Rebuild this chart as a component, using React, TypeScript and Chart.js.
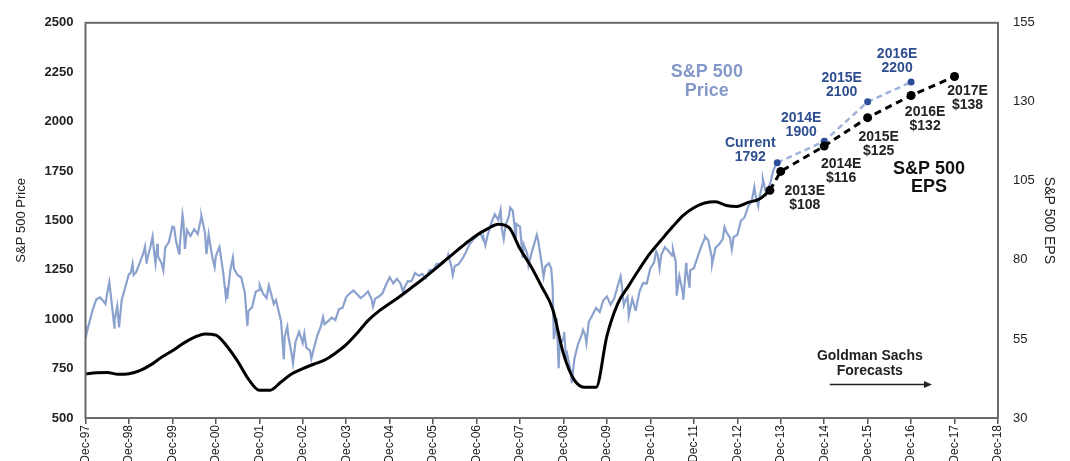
import React, { useEffect, useRef } from "react";
import { Chart, registerables } from "chart.js";

Chart.register(...registerables);

// ---------- DATA ----------
const xTickLabels = [
  "Dec-97", "Dec-98", "Dec-99", "Dec-00", "Dec-01", "Dec-02", "Dec-03", "Dec-04",
  "Dec-05", "Dec-06", "Dec-07", "Dec-08", "Dec-09", "Dec-10", "Dec-11", "Dec-12",
  "Dec-13", "Dec-14", "Dec-15", "Dec-16", "Dec-17", "Dec-18",
];
const priceTicks = [500, 750, 1000, 1250, 1500, 1750, 2000, 2250, 2500];
const epsTicks = [30, 55, 80, 105, 130, 155];

// S&P 500 price, month-end values from Dec-97 (index 0) to Nov-13
const priceMonthlyCloses = [
  970,
  980, 1049, 1101, 1111, 1090, 1133, 1120, 957, 1017, 1098, 1163, 1229,
  1280, 1238, 1286, 1335, 1301, 1372, 1328, 1320, 1283, 1362, 1389, 1469,
  1394, 1366, 1499, 1452, 1421, 1455, 1431, 1518, 1437, 1429, 1315, 1320,
  1366, 1240, 1160, 1249, 1256, 1224, 1211, 1134, 1041, 1060, 1139, 1148,
  1130, 1107, 1147, 1077, 1067, 990, 912, 916, 815, 886, 936, 880,
  856, 841, 848, 917, 964, 975, 990, 1008, 996, 1051, 1058, 1112,
  1131, 1145, 1126, 1107, 1121, 1141, 1102, 1104, 1115, 1130, 1174, 1212,
  1181, 1204, 1181, 1157, 1192, 1191, 1234, 1220, 1229, 1207, 1249, 1248,
  1280, 1281, 1295, 1311, 1270, 1270, 1277, 1304, 1336, 1378, 1401, 1418,
  1438, 1407, 1421, 1482, 1531, 1503, 1455, 1474, 1527, 1549, 1481, 1468,
  1378, 1331, 1323, 1386, 1400, 1280, 1267, 1283, 1165, 969, 896, 903,
  826, 735, 798, 873, 919, 919, 987, 1021, 1057, 1036, 1096, 1115,
  1074, 1104, 1169, 1187, 1089, 1031, 1102, 1049, 1141, 1183, 1181, 1258,
  1286, 1327, 1326, 1364, 1345, 1321, 1292, 1219, 1131, 1253, 1247, 1258,
  1312, 1366, 1408, 1398, 1310, 1362, 1379, 1407, 1441, 1412, 1416, 1426,
  1498, 1515, 1569, 1598, 1631, 1606, 1686, 1633, 1682, 1757, 1792,
];

// intra-month swings (month index from Dec-97, value)
const priceSwingMonths = [
  0.3, 5.5, 6.57, 8.03, 8.77, 9.27, 12.47, 13.3, 16.43, 16.9,
  18.53, 19.33, 19.83, 21.5, 24.47, 25.83, 26.8, 27.47, 32.03, 33.4,
  35.67, 38.73, 39.13, 40.7, 44.7, 48.13, 50.63, 52.6, 54.77, 55.73,
  57.3, 60.43, 62.37, 65.6, 79.4, 87.67, 100.17, 101.43, 109.9, 110.43,
  114.63, 115.5, 117.3, 118.87, 120.73, 122.33, 124.63, 126.5, 128.63, 129.33,
  130.13, 130.67, 131.03, 132.2, 132.67, 134.3, 137.4, 138.33, 147.77, 148.67,
  149.7, 150.07, 151.87, 157.6, 158.53, 162.23, 163.27, 165.1, 165.9, 166.83,
  171.07, 173.03, 176.47, 178.5, 184.7, 185.8, 187.07,
];
const priceSwingValues = [
  927, 1077, 1187, 994, 1066, 959, 1234, 1224, 1367, 1281,
  1418, 1281, 1381, 1247, 1465, 1333, 1527, 1356, 1520, 1329,
  1264, 1118, 1103, 1312, 966, 1172, 1170, 1097, 797, 962,
  777, 927, 800, 1011, 1064, 1138, 1325, 1223, 1399, 1374,
  1553, 1406, 1565, 1407, 1310, 1273, 1426, 1214, 1255, 899,
  1005, 752, 870, 935, 805, 677, 946, 879, 1217, 1071,
  1113, 1022, 1047, 1343, 1257, 1353, 1119, 1099, 1285, 1159,
  1419, 1278, 1466, 1353, 1669, 1573, 1709,
];

// S&P 500 EPS, quarterly from Dec-97 to Sep-13
const epsQuarterly = [
  44.0, 44.3, 44.4, 43.8, 44.0, 45.0, 46.8, 49.2, 51.3, 53.6, 55.5, 56.6,
  56.2, 52.8, 48.0, 42.3, 38.8, 38.8, 41.4, 44.0, 45.6, 47.0, 48.3, 50.5,
  53.2, 56.8, 60.8, 63.8, 66.2, 68.6, 71.2, 73.8, 76.6, 79.5, 82.4, 85.2,
  87.8, 89.8, 91.3, 90.2, 83.5, 78.0, 71.5, 64.5, 50.3, 42.0, 39.7, 39.7,
  56.0, 66.2, 71.8, 77.2, 82.2, 86.3, 90.3, 94.0, 96.5, 98.0, 98.4, 97.2,
  96.9, 98.2, 99.2, 102.0,
];

// Forecasts
const priceForecastYears = [15.92, 17, 18, 19];
const priceForecastValues = [1792, 1900, 2100, 2200];
const priceForecastTags = ["Current", "2014E", "2015E", "2016E"];

const epsForecastYears = [15.75, 16, 17, 18, 19, 20];
const epsForecastValues = [102, 108, 116, 125, 132, 138];
const epsForecastTags = ["", "2013E", "2014E", "2015E", "2016E", "2017E"];

// ---------- STYLE ----------
const FONT = "'Liberation Sans', Arial, Helvetica, sans-serif";
const PRICE_LINE = "#8CA2CE";
const PRICE_DASH = "#A0B3DA";
const PRICE_DOT = "#2D4C9A";
const PRICE_TEXT = "#2F4E90";
const PRICE_LABEL = "#8499C9";
const TEXT_DARK = "#222222";

const priceLabelOffsets = [
  [-27, -20], [-23, -23], [-26, -24], [-14, -28],
];
const epsLabelOffsets = [
  [0, 0], [24, 20], [17, 18], [11, 19], [14, 17], [13, 15],
];

const annotationPlugin = {
  id: "gsAnnotations",
  afterDatasetsDraw(chart: any) {
    const { ctx, chartArea, scales } = chart;
    const x = scales.x;
    const y = scales.y;
    const y1 = scales.y1;
    ctx.save();

    // frame
    ctx.strokeStyle = "#6a6a6a";
    ctx.lineWidth = 2;
    ctx.strokeRect(chartArea.left, chartArea.top, chartArea.width, chartArea.height);

    ctx.textAlign = "center";
    ctx.textBaseline = "middle";

    // price forecast labels
    ctx.font = `bold 14px ${FONT}`;
    ctx.fillStyle = PRICE_TEXT;
    priceForecastYears.forEach((yr, i) => {
      const px = x.getPixelForValue(yr) + priceLabelOffsets[i][0];
      const py = y.getPixelForValue(priceForecastValues[i]) + priceLabelOffsets[i][1];
      ctx.fillText(priceForecastTags[i], px, py);
      ctx.fillText(String(priceForecastValues[i]), px, py + 14);
    });

    // eps forecast labels
    ctx.fillStyle = TEXT_DARK;
    epsForecastYears.forEach((yr, i) => {
      if (!epsForecastTags[i]) return;
      const px = x.getPixelForValue(yr) + epsLabelOffsets[i][0];
      const py = y1.getPixelForValue(epsForecastValues[i]) + epsLabelOffsets[i][1];
      ctx.fillText(epsForecastTags[i], px, py);
      ctx.fillText("$" + epsForecastValues[i], px, py + 14);
    });

    // series labels
    ctx.font = `bold 18px ${FONT}`;
    ctx.fillStyle = PRICE_LABEL;
    const plx = x.getPixelForValue(14.3);
    const ply = y.getPixelForValue(2250);
    ctx.fillText("S&P 500", plx, ply);
    ctx.fillText("Price", plx, ply + 19);

    ctx.fillStyle = "#111111";
    const elx = x.getPixelForValue(19.41);
    const ely = y1.getPixelForValue(108.75);
    ctx.fillText("S&P 500", elx, ely);
    ctx.fillText("EPS", elx, ely + 18);

    // Goldman Sachs Forecasts
    ctx.font = `bold 14px ${FONT}`;
    ctx.fillStyle = TEXT_DARK;
    const gx = x.getPixelForValue(18.05);
    const gy = y.getPixelForValue(815);
    ctx.fillText("Goldman Sachs", gx, gy);
    ctx.fillText("Forecasts", gx, gy + 15);

    const ax0 = x.getPixelForValue(17.13);
    const ax1 = x.getPixelForValue(19.48);
    const ay = y.getPixelForValue(670);
    ctx.strokeStyle = TEXT_DARK;
    ctx.lineWidth = 1.5;
    ctx.beginPath();
    ctx.moveTo(ax0, ay);
    ctx.lineTo(ax1 - 6, ay);
    ctx.stroke();
    ctx.fillStyle = TEXT_DARK;
    ctx.beginPath();
    ctx.moveTo(ax1, ay);
    ctx.lineTo(ax1 - 8, ay - 3.5);
    ctx.lineTo(ax1 - 8, ay + 3.5);
    ctx.closePath();
    ctx.fill();

    ctx.restore();
  },
};

function buildPriceSeries() {
  const pts = priceMonthlyCloses.map((v, i) => ({ x: i / 12, y: v }));
  priceSwingMonths.forEach((m, i) => pts.push({ x: m / 12, y: priceSwingValues[i] }));
  pts.sort((a, b) => a.x - b.x);
  return pts;
}

export default function App() {
  const canvasRef = useRef<HTMLCanvasElement | null>(null);

  useEffect(() => {
    if (!canvasRef.current) return;
    const pricePts = buildPriceSeries();
    const epsPts = epsQuarterly.map((v, i) => ({ x: i / 4, y: v }));
    const priceFc = priceForecastYears.map((t, i) => ({ x: t, y: priceForecastValues[i] }));
    const epsFc = epsForecastYears.map((t, i) => ({ x: t, y: epsForecastValues[i] }));

    const chart = new Chart(canvasRef.current, {
      type: "line",
      data: {
        datasets: [
          {
            label: "EPS forecast",
            data: epsFc,
            yAxisID: "y1",
            borderColor: "#000",
            borderWidth: 3,
            borderDash: [7, 5],
            pointRadius: 4.5,
            pointBackgroundColor: "#000",
            pointBorderWidth: 0,
            tension: 0,
          },
          {
            label: "S&P 500 EPS",
            data: epsPts,
            yAxisID: "y1",
            borderColor: "#000",
            borderWidth: 3,
            pointRadius: 0,
            cubicInterpolationMode: "monotone",
          },
          {
            label: "Price forecast",
            data: priceFc,
            yAxisID: "y",
            borderColor: PRICE_DASH,
            borderWidth: 2.5,
            borderDash: [6, 4],
            pointRadius: 3.5,
            pointBackgroundColor: PRICE_DOT,
            pointBorderWidth: 0,
            tension: 0,
          },
          {
            label: "S&P 500 Price",
            data: pricePts,
            yAxisID: "y",
            borderColor: PRICE_LINE,
            borderWidth: 2.2,
            pointRadius: 0,
            tension: 0,
          },
        ],
      },
      options: {
        animation: false,
        responsive: false,
        maintainAspectRatio: false,
        parsing: false,
        normalized: true,
        layout: { padding: { top: 18, left: 0, right: 0, bottom: 0 } },
        plugins: {
          legend: { display: false },
          tooltip: { enabled: false },
        },
        scales: {
          x: {
            type: "linear",
            position: "bottom",
            min: 0,
            max: 21,
            afterFit: (s: any) => { s.height = 43; },
            border: { display: false },
            grid: {
              display: true,
              drawOnChartArea: false,
              drawTicks: true,
              tickLength: 6,
              color: "#555",
              lineWidth: 1.5,
            },
            ticks: {
              stepSize: 1,
              maxTicksLimit: 40,
              autoSkip: false,
              minRotation: 90,
              maxRotation: 90,
              padding: 1,
              color: TEXT_DARK,
              font: { family: FONT, size: 12 },
              callback: (v: any) => xTickLabels[Math.round(Number(v))] ?? "",
            },
          },
          y: {
            type: "linear",
            position: "left",
            min: priceTicks[0],
            max: priceTicks[priceTicks.length - 1],
            afterFit: (s: any) => { s.width = 85.5; },
            afterBuildTicks: (s: any) => { s.ticks = priceTicks.map((v) => ({ value: v })); },
            border: { display: false },
            grid: { display: false, drawTicks: false },
            ticks: {
              padding: 12,
              color: TEXT_DARK,
              font: { family: FONT, size: 13, weight: "bold" },
              callback: (v: any) => String(v),
            },
            title: {
              display: true,
              text: "S&P 500 Price",
              color: TEXT_DARK,
              font: { family: FONT, size: 13 },
              padding: { top: 14, bottom: 0 },
            },
          },
          y1: {
            type: "linear",
            position: "right",
            min: epsTicks[0],
            max: epsTicks[epsTicks.length - 1],
            afterFit: (s: any) => { s.width = 72; },
            afterBuildTicks: (s: any) => { s.ticks = epsTicks.map((v) => ({ value: v })); },
            border: { display: false },
            grid: { display: false, drawTicks: false },
            ticks: {
              padding: 15,
              color: TEXT_DARK,
              font: { family: FONT, size: 13 },
              callback: (v: any) => String(v),
            },
            title: {
              display: true,
              text: "S&P 500 EPS",
              color: TEXT_DARK,
              font: { family: FONT, size: 14 },
              padding: { top: 13, bottom: 0 },
            },
          },
        },
      },
      plugins: [annotationPlugin],
    } as any);

    return () => chart.destroy();
  }, []);

  return (
    <div style={{ position: "absolute", left: 0, top: 0, width: 1070, height: 461, background: "#fff" }}>
      <canvas ref={canvasRef} width={1070} height={461} style={{ display: "block" }} />
    </div>
  );
}
